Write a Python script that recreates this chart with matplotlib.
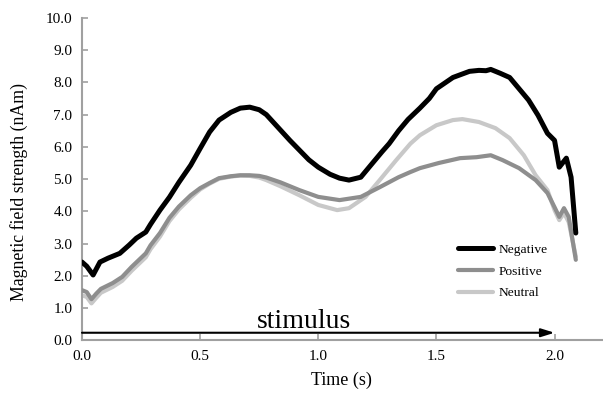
import matplotlib
matplotlib.use("Agg")
import matplotlib.pyplot as plt

plt.rcParams['font.family'] = ['Liberation Serif', 'DejaVu Serif']

# Data (time in s, field strength in nAm)
neg_t = [0.0, 0.02, 0.047, 0.076, 0.11, 0.16, 0.2, 0.23, 0.27, 0.29, 0.33, 0.37, 0.41, 0.46,
         0.5, 0.54, 0.58, 0.63, 0.67, 0.71, 0.75, 0.78, 0.84, 0.88, 0.92, 0.96, 1.0, 1.05,
         1.09, 1.13, 1.18, 1.23, 1.27, 1.30, 1.34, 1.38, 1.43, 1.47, 1.5, 1.54, 1.57, 1.64,
         1.68, 1.71, 1.73, 1.77, 1.81, 1.85, 1.89, 1.93, 1.97, 2.0, 2.02, 2.05, 2.07, 2.09]
neg_v = [2.43, 2.3, 2.03, 2.43, 2.55, 2.7, 2.96, 3.17, 3.36, 3.6, 4.04, 4.44, 4.9, 5.43,
         5.95, 6.46, 6.83, 7.07, 7.2, 7.23, 7.15, 7.0, 6.52, 6.2, 5.9, 5.6, 5.37, 5.15,
         5.03, 4.97, 5.06, 5.5, 5.85, 6.1, 6.5, 6.85, 7.2, 7.5, 7.8, 8.0, 8.15, 8.34,
         8.37, 8.36, 8.4, 8.28, 8.15, 7.8, 7.45, 6.98, 6.42, 6.2, 5.37, 5.65, 5.06, 3.33]

pos_t = [0.0, 0.02, 0.04, 0.06, 0.08, 0.13, 0.17, 0.21, 0.27, 0.29, 0.33, 0.37, 0.41, 0.46,
         0.5, 0.54, 0.58, 0.63, 0.67, 0.71, 0.75, 0.78, 0.84, 0.92, 1.0, 1.09, 1.18, 1.26,
         1.34, 1.39, 1.43, 1.51, 1.6, 1.67, 1.73, 1.78, 1.85, 1.92, 1.97, 2.0, 2.02, 2.04,
         2.06, 2.09]
pos_v = [1.56, 1.5, 1.28, 1.45, 1.6, 1.78, 1.97, 2.28, 2.7, 2.95, 3.33, 3.8, 4.15, 4.5,
         4.72, 4.88, 5.03, 5.09, 5.12, 5.12, 5.1, 5.05, 4.9, 4.66, 4.45, 4.35, 4.45, 4.75,
         5.06, 5.22, 5.34, 5.5, 5.65, 5.68, 5.74, 5.59, 5.34, 4.97, 4.57, 4.13, 3.83, 4.1,
         3.83, 2.5]

neu_t = [0.0, 0.02, 0.04, 0.06, 0.08, 0.13, 0.17, 0.21, 0.27, 0.29, 0.33, 0.37, 0.41, 0.46,
         0.5, 0.54, 0.58, 0.63, 0.67, 0.71, 0.75, 0.78, 0.84, 0.92, 1.0, 1.08, 1.13, 1.2,
         1.26, 1.33, 1.39, 1.43, 1.5, 1.57, 1.61, 1.68, 1.75, 1.81, 1.87, 1.92, 1.97, 2.0,
         2.02, 2.04, 2.06, 2.09]
neu_v = [1.4, 1.35, 1.15, 1.32, 1.48, 1.66, 1.85, 2.16, 2.58, 2.83, 3.22, 3.7, 4.06, 4.42,
         4.68, 4.86, 5.01, 5.08, 5.11, 5.1, 5.05, 4.97, 4.78, 4.5, 4.2, 4.04, 4.1, 4.45,
         4.97, 5.59, 6.1, 6.36, 6.67, 6.83, 6.86, 6.77, 6.58, 6.27, 5.74, 5.12, 4.66, 4.04,
         3.73, 3.95, 3.67, 2.6]

x_ticks = [0.0, 0.5, 1.0, 1.5, 2.0]
y_ticks = [0.0, 1.0, 2.0, 3.0, 4.0, 5.0, 6.0, 7.0, 8.0, 9.0, 10.0]

fig = plt.figure(figsize=(6.03, 3.95), dpi=100)
ax = fig.add_axes([0.136, 0.138, 0.862, 0.817])

kw = dict(solid_capstyle='round', solid_joinstyle='round')
ax.plot(neu_t, neu_v, color='#c8c8c8', lw=3.0, label='Neutral', zorder=2, **kw)
ax.plot(pos_t, pos_v, color='#8e8e8e', lw=3.0, label='Positive', zorder=3, **kw)
ax.plot(neg_t, neg_v, color='#000000', lw=3.6, label='Negative', zorder=4, **kw)

ax.set_xlim(0, 2.2)
ax.set_ylim(0, 10)
ax.set_xticks(x_ticks)
ax.set_xticklabels([f"{v:.1f}" for v in x_ticks])
ax.set_yticks(y_ticks)
ax.set_yticklabels([f"{v:.1f}" for v in y_ticks])
ax.tick_params(direction='in', length=4, width=1.2, color='#a0a0a0', labelsize=11, pad=7)

for s in ['top', 'right']:
    ax.spines[s].set_visible(False)
for s in ['left', 'bottom']:
    ax.spines[s].set_color('#a0a0a0')
    ax.spines[s].set_linewidth(1.5)

ax.set_xlabel('Time (s)', fontsize=13, labelpad=6)
ax.set_ylabel('Magnetic field strength (nAm)', fontsize=12.8)
ax.yaxis.set_label_coords(-0.104, 0.46)

# stimulus arrow
ax.annotate('', xy=(2.0, 0.24), xytext=(0.0, 0.24),
            arrowprops=dict(arrowstyle='-|>,head_length=0.8,head_width=0.25', color='black', lw=1.5,
                            shrinkA=0, shrinkB=0))
ax.text(0.94, 0.39, 'stimulus', ha='center', va='baseline', fontsize=20)

h, l = ax.get_legend_handles_labels()
order = [2, 1, 0]
ax.legend([h[i] for i in order], [l[i] for i in order], frameon=False, fontsize=9.7,
          loc='upper left', bbox_to_anchor=(0.723, 0.30), handlelength=2.6, labelspacing=0.68,
          handletextpad=0.4, borderaxespad=0, borderpad=0)

fig.savefig('out.png', dpi=100)
